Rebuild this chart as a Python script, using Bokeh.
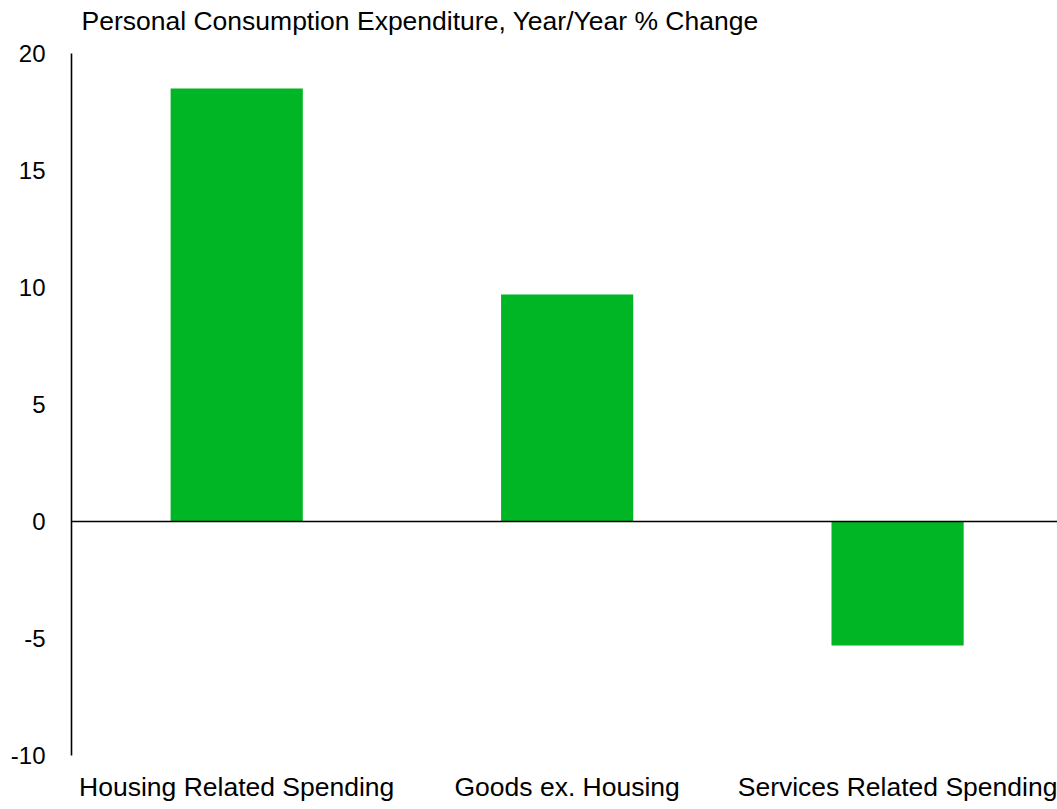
from bokeh.plotting import figure
from bokeh.models import Range1d, FixedTicker, Span, Label
from bokeh.embed import file_html
from bokeh.resources import INLINE

categories = ["Housing Related Spending", "Goods ex. Housing", "Services Related Spending"]
values = [18.5, 9.7, -5.3]
y_ticks = [-10, -5, 0, 5, 10, 15, 20]
y_tick_labels = ["-10", "-5", "0", "5", "10", "15", "20"]
title_text = "Personal Consumption Expenditure, Year/Year % Change"

xs = [i + 0.5 for i in range(len(categories))]

# frame spans full top area so the title label sits inside it; axis line bounded to tick range
p = figure(frame_width=986, frame_height=755, output_backend="svg", toolbar_location=None,
           x_range=Range1d(0, 2.984), y_range=Range1d(-10, 22.265),
           min_border_left=71, min_border_right=0, min_border_top=0, min_border_bottom=46)

p.vbar(x=xs, top=values, bottom=0, width=0.4, fill_color="#00B624", line_color=None)

p.add_layout(Span(location=0, dimension="width", line_color="#000000", line_width=1.6))

p.add_layout(Label(x=10, y=735, x_units="screen", y_units="screen", text=title_text,
                   text_font="Liberation Sans", text_font_size="26.5px", text_color="#000000",
                   text_baseline="alphabetic", text_align="left"))

p.xgrid.grid_line_color = None
p.ygrid.grid_line_color = None
p.outline_line_color = None

ya = p.yaxis[0]
ya.ticker = FixedTicker(ticks=y_ticks)
ya.bounds = (min(y_ticks), max(y_ticks))
ya.major_label_overrides = {t: s for t, s in zip(y_ticks, y_tick_labels)}
ya.axis_line_color = "#000000"
ya.axis_line_width = 1.6
ya.major_tick_line_color = None
ya.minor_tick_line_color = None
ya.major_tick_out = 0
ya.major_tick_in = 0
ya.major_label_standoff = 26
ya.major_label_text_font = "Liberation Sans"
ya.major_label_text_font_size = "24px"
ya.major_label_text_color = "#000000"

xa = p.xaxis[0]
xa.ticker = FixedTicker(ticks=xs)
xa.major_label_overrides = {x: c for x, c in zip(xs, categories)}
xa.axis_line_color = None
xa.major_tick_line_color = None
xa.minor_tick_line_color = None
xa.major_tick_out = 0
xa.major_tick_in = 0
xa.major_label_standoff = 16
xa.major_label_text_font = "Liberation Sans"
xa.major_label_text_font_size = "26.5px"
xa.major_label_text_color = "#000000"

open("out.html", "w").write(file_html(p, INLINE))
